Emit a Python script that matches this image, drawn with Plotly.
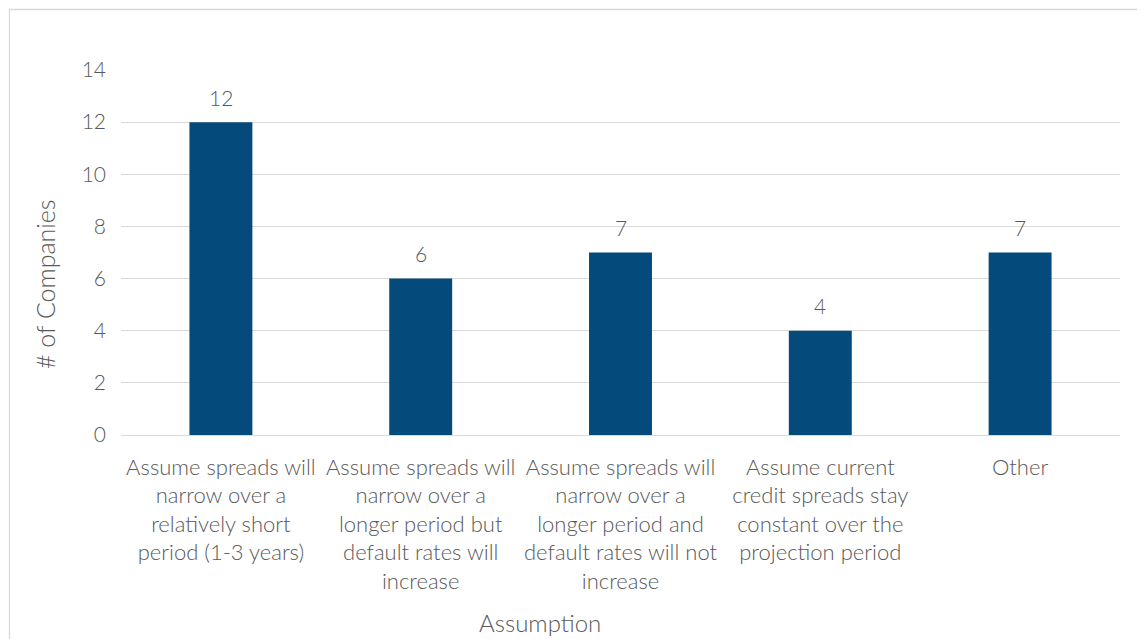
import plotly.graph_objects as go

categories = [
    "Assume spreads will<br>narrow over a<br>relatively short<br>period (1-3 years)",
    "Assume spreads will<br>narrow over a<br>longer period but<br>default rates will<br>increase",
    "Assume spreads will<br>narrow over a<br>longer period and<br>default rates will not<br>increase",
    "Assume current<br>credit spreads stay<br>constant over the<br>projection period",
    "Other",
]
companies = [12, 6, 7, 4, 7]
y_ticks = [0, 2, 4, 6, 8, 10, 12, 14]

FONT = "Lato"
TXT = "#595959"
WT = 300
OFF = 8  # page body margin
W, H = 1145, 639
# target pixel edges of plot area in the screenshot
PL, PR, PT, PB = 121, 1120, 70, 435
L = PL - OFF
T = PT - OFF
R = W + OFF - PR
B = H + OFF - PB
pw, ph = PR - PL, PB - PT

def px2x(px):
    return (px - PL) / pw

def py2y(py):
    return (PB - py) / ph

fig = go.Figure()
fig.add_trace(go.Bar(
    x=categories, y=companies,
    marker=dict(color="#044B7B", line=dict(width=0)),
    width=0.315,
    hoverinfo="skip",
))

for c, v in zip(categories, companies):
    fig.add_annotation(x=c, y=v, text=str(v), showarrow=False, yshift=25,
                       font=dict(family=FONT, size=21, color=TXT, weight=WT))

fig.add_annotation(xref="paper", yref="paper", x=px2x(540), y=py2y(622),
                   xanchor="center", yanchor="middle",
                   text="Assumption", showarrow=False,
                   font=dict(family=FONT, size=24, color=TXT, weight=WT))
fig.add_annotation(xref="paper", yref="paper", x=px2x(45), y=py2y(284),
                   xanchor="center", yanchor="middle",
                   text="# of Companies", showarrow=False, textangle=-90,
                   font=dict(family=FONT, size=25, color=TXT, weight=WT))

fig.add_shape(type="rect", xref="paper", yref="paper",
              x0=px2x(9.5), y0=py2y(660), x1=px2x(1160), y1=py2y(9.5),
              line=dict(color="#D9D9D9", width=1.3), fillcolor="rgba(0,0,0,0)", layer="below")

fig.update_layout(
    width=W, height=H,
    margin=dict(l=L, r=R, t=T, b=B),
    paper_bgcolor="white", plot_bgcolor="white",
    showlegend=False,
    font=dict(family=FONT, size=21, color=TXT, weight=WT),
    bargap=0.685,
    xaxis=dict(showgrid=False, showline=True, linecolor="#D9D9D9", linewidth=1.3,
               ticks="", tickfont=dict(family=FONT, size=22, color=TXT, weight=WT),
               fixedrange=True, ticklabelstandoff=12),
    yaxis=dict(range=[0, 14], tickvals=y_ticks, showgrid=True, gridcolor="#D9D9D9",
               gridwidth=1.3, zeroline=False, showline=False, ticks="",
               tickfont=dict(family=FONT, size=21, color=TXT, weight=WT), ticklabelstandoff=14),
)

fig.write_html("out.html")
